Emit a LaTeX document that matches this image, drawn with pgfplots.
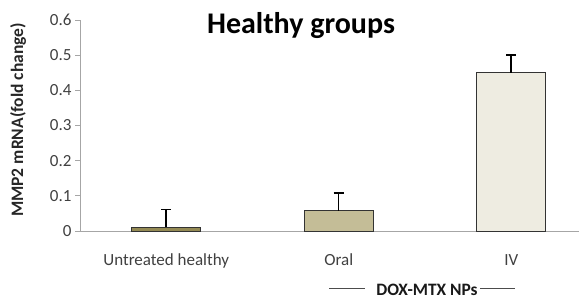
\documentclass[border=0pt]{standalone}
\usepackage{pgfplots}
\pgfplotsset{compat=1.18}
\usepackage{fontspec}
\setmainfont{Carlito}
\definecolor{barA}{HTML}{948A54}
\definecolor{barB}{HTML}{C4BD97}
\definecolor{barC}{HTML}{EEECE1}
\definecolor{axgray}{HTML}{A6A6A6}
\begin{document}
\begin{tikzpicture}
\useasboundingbox (0,0) rectangle (579bp,298bp);
\begin{axis}[
  at={(80bp,67bp)}, anchor=south west,
  scale only axis, width=499bp, height=211bp,
  xmin=-0.5, xmax=2.393, ymin=0, ymax=0.6,
  axis x line=bottom, axis y line=left,
  axis line style={axgray, line width=1pt, -},
  xtick={0,1,2},
  xticklabels={Untreated healthy, Oral, IV},
  x tick style={draw=none},
  xticklabel style={font=\fontsize{17bp}{20bp}\selectfont, text=black!75, anchor=base, yshift=-29bp},
  ytick={0,0.1,...,0.6},
  yticklabels={0,0.1,0.2,0.3,0.4,0.5,0.6},
  y tick style={axgray, line width=0.8pt},
  tick align=outside, major tick length=5bp,
  yticklabel style={font=\fontsize{17bp}{20bp}\selectfont, text=black!75},
  /pgf/number format/assume math mode=true,
  ybar, bar width=69bp, bar shift=0pt,
  clip=false,
]
\addplot[fill=barA, draw=black!80, line width=0.8pt,
  error bars/.cd, y dir=plus, y explicit,
  error bar style={black, line width=1.5pt}, error mark options={black, line width=1.5pt, mark size=5bp, rotate=90}]
  coordinates {(0,0.0105) +- (0,0.05)};
\addplot[fill=barB, draw=black!80, line width=0.8pt,
  error bars/.cd, y dir=plus, y explicit,
  error bar style={black, line width=1.5pt}, error mark options={black, line width=1.5pt, mark size=5bp, rotate=90}]
  coordinates {(1,0.058) +- (0,0.05)};
\addplot[fill=barC, draw=black!80, line width=0.8pt,
  error bars/.cd, y dir=plus, y explicit,
  error bar style={black, line width=1.5pt}, error mark options={black, line width=1.5pt, mark size=5bp, rotate=90}]
  coordinates {(2,0.45) +- (0,0.05)};
\end{axis}
\node[anchor=base, font=\bfseries\fontsize{30bp}{34bp}\selectfont] at (301bp,264bp) {Healthy groups};
\node[rotate=90, font=\bfseries\fontsize{17.5bp}{20bp}\selectfont, text=black!85] at (18bp,178bp) {MMP2 mRNA(fold change)};
\node[anchor=base, font=\bfseries\fontsize{17.4bp}{20bp}\selectfont, text=black!90, inner sep=0pt] at (427bp,3bp) {DOX-MTX NPs};
\draw[black!70, line width=1pt] (329bp,10bp) -- (365bp,10bp);
\draw[black!70, line width=1pt] (480bp,10bp) -- (515bp,10bp);
\end{tikzpicture}
\end{document}
